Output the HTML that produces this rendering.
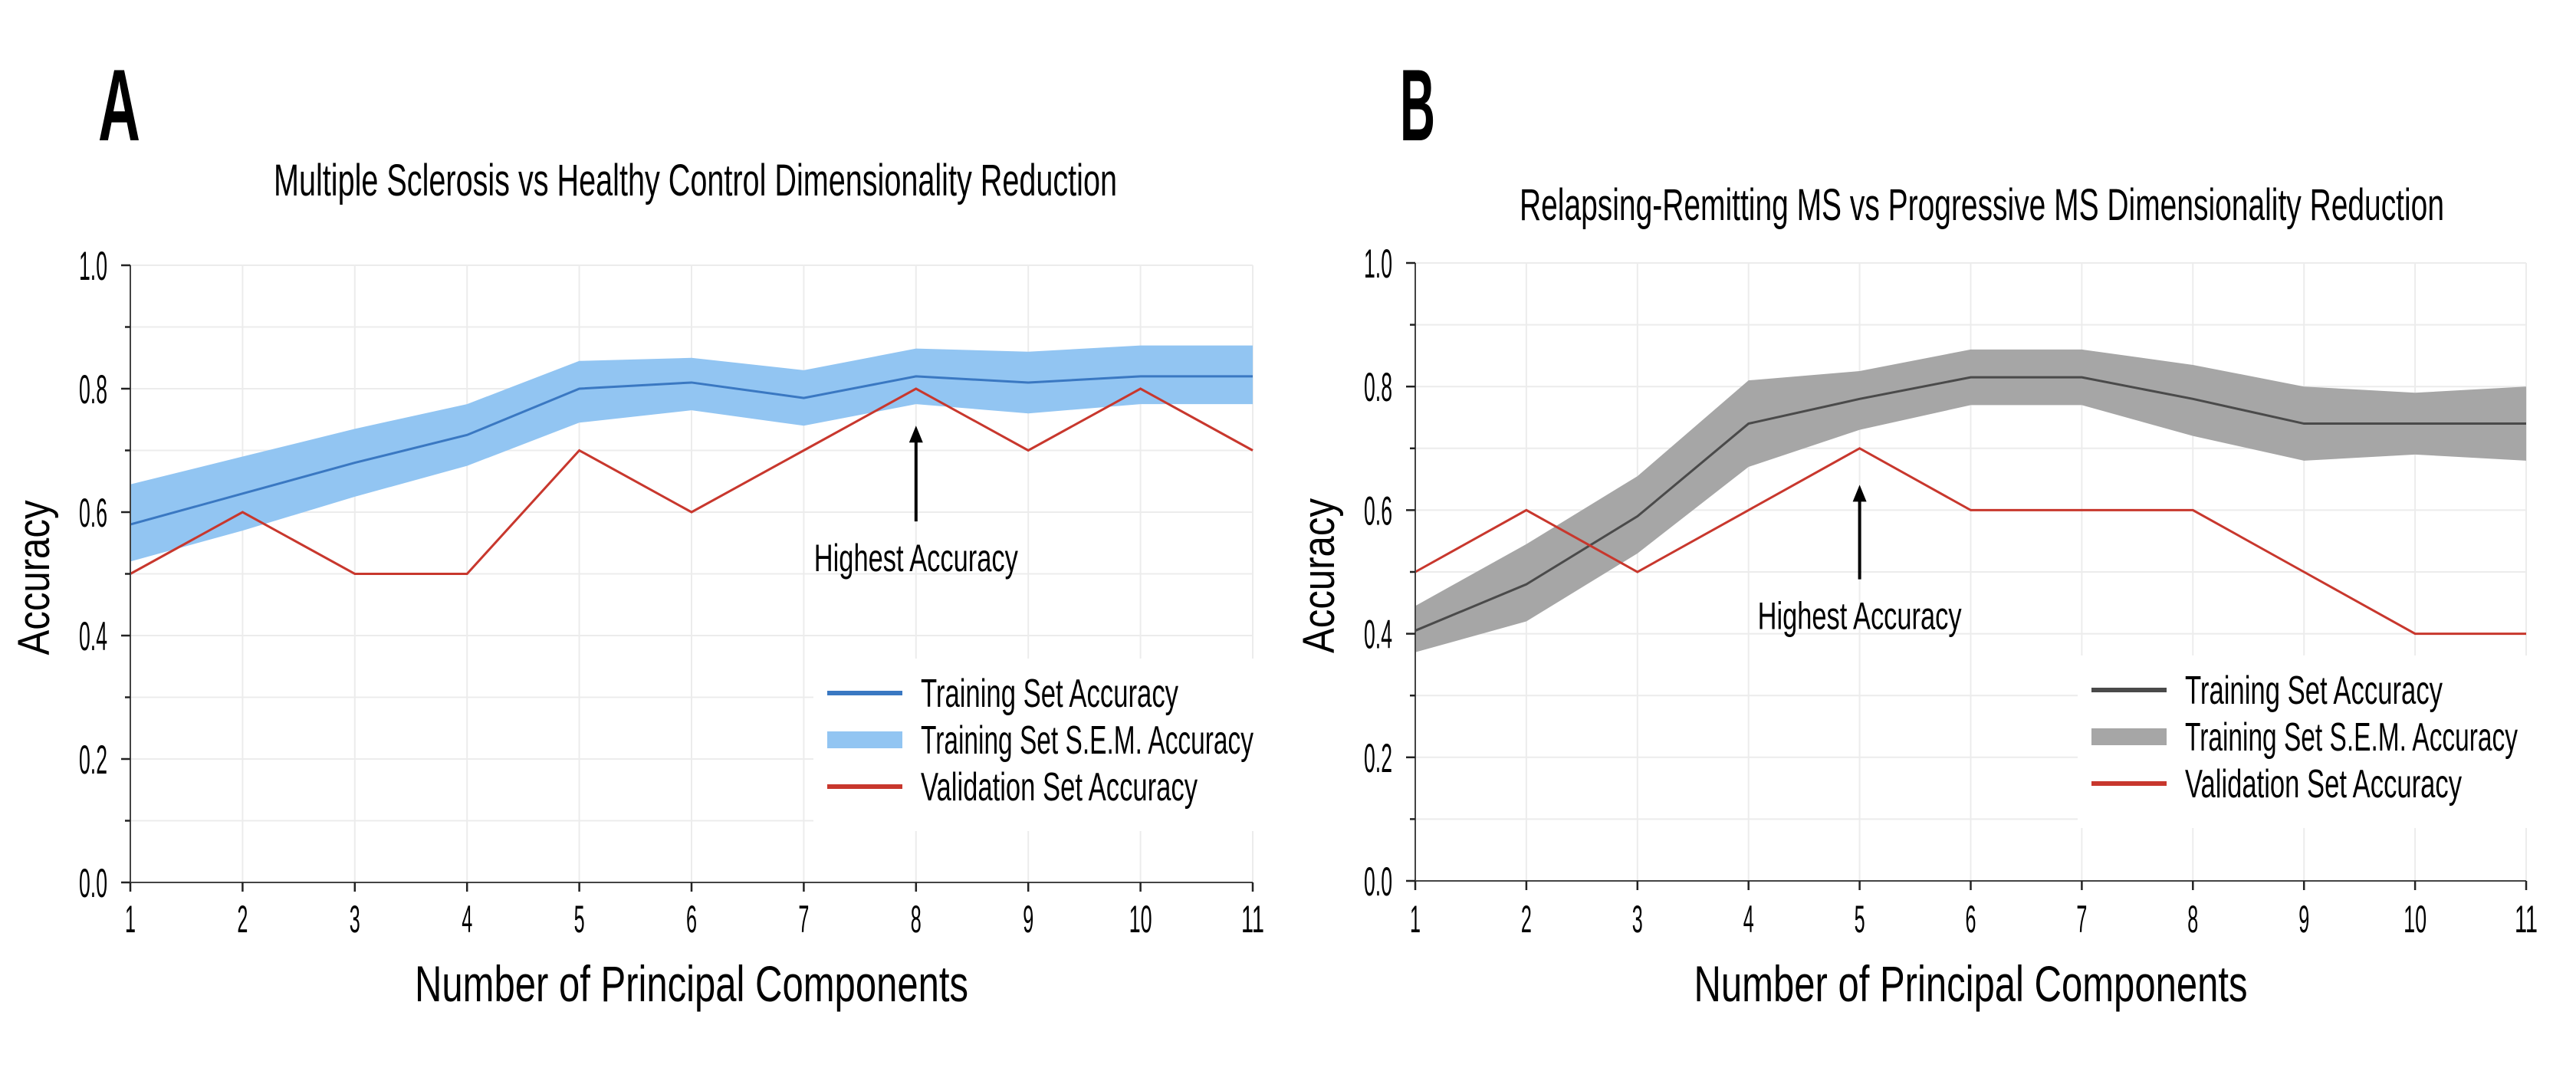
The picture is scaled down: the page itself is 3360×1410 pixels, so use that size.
<!DOCTYPE html>
<html><head><meta charset="utf-8"><style>
html,body{margin:0;padding:0;background:#fff;}
svg{display:block;font-family:"Liberation Sans",sans-serif;}
</style></head><body>
<svg id="fig" width="3360" height="1410" viewBox="0 0 3360 1410" xmlns="http://www.w3.org/2000/svg"></svg>
<script>
const xCats = [1,2,3,4,5,6,7,8,9,10,11];
const yTicks = [0,0.2,0.4,0.6,0.8,1.0];
const yTickLabels = ["0.0","0.2","0.4","0.6","0.8","1.0"];
const yMinorTicks = [0.1,0.3,0.5,0.7,0.9];
const aTrain = [0.58,0.63,0.68,0.725,0.80,0.81,0.785,0.82,0.81,0.82,0.82];
const aUpper = [0.645,0.69,0.735,0.775,0.845,0.85,0.83,0.865,0.86,0.87,0.87];
const aLower = [0.52,0.57,0.625,0.675,0.745,0.765,0.74,0.775,0.76,0.775,0.775];
const aValid = [0.5,0.6,0.5,0.5,0.7,0.6,0.7,0.8,0.7,0.8,0.7];
const bTrain = [0.405,0.48,0.59,0.74,0.78,0.815,0.815,0.78,0.74,0.74,0.74];
const bUpper = [0.445,0.545,0.655,0.81,0.825,0.86,0.86,0.835,0.80,0.79,0.80];
const bLower = [0.37,0.42,0.53,0.67,0.73,0.77,0.77,0.72,0.68,0.69,0.68];
const bValid = [0.5,0.6,0.5,0.6,0.7,0.6,0.6,0.6,0.5,0.4,0.4];
const aArrow = [8,0.585,0.74];
const bArrow = [5,0.488,0.641];

const NS="http://www.w3.org/2000/svg";
const svg=document.getElementById('fig');
function mk(tag,attrs,parent){const e=document.createElementNS(NS,tag);for(const k in attrs)e.setAttribute(k,attrs[k]);(parent||svg).appendChild(e);return e;}
function txt(str,x,y,size,anchor,len,parent,extra){
  const a={x:x,y:y,'font-size':size,'text-anchor':anchor||'start',fill:'#000'};
  if(len){a.textLength=len;a.lengthAdjust='spacingAndGlyphs';}
  if(extra)for(const k in extra)a[k]=extra[k];
  const t=mk('text',a,parent);t.textContent=str;return t;
}

function panel(cfg){
  const g=mk('g',{});
  
  
  const X=v=>cfg.x0+(v-1)*(cfg.x1-cfg.x0)/10;
  const Y=v=>cfg.y0-v*(cfg.y0-cfg.y1);
  // grid
  const grid=mk('g',{stroke:'#ececec','stroke-width':2},g);
  
  
  xCats.forEach(c=>mk('line',{x1:X(c),x2:X(c),y1:Y(0),y2:Y(1)},grid));
  yTicks.concat(yMinorTicks).forEach(v=>mk('line',{x1:cfg.x0,x2:cfg.x1,y1:Y(v),y2:Y(v)},grid));
  // band
  let d='';
  xCats.forEach((c,i)=>{d+=(i?'L':'M')+X(c)+','+Y(cfg.upper[i]);});
  for(let i=xCats.length-1;i>=0;i--)d+='L'+X(xCats[i])+','+Y(cfg.lower[i]);
  const band=mk('path',{d:d+'Z',fill:cfg.band,stroke:'none'},g);
  
  
  const tl=mk('polyline',{points:xCats.map((c,i)=>X(c)+','+Y(cfg.train[i])).join(' '),fill:'none',stroke:cfg.line,'stroke-width':3},g);
  
  
  const vl=mk('polyline',{points:xCats.map((c,i)=>X(c)+','+Y(cfg.valid[i])).join(' '),fill:'none',stroke:'#c8372d','stroke-width':3},g);
  
  
  // axes
  mk('line',{x1:cfg.x0,x2:cfg.x0,y1:Y(1),y2:Y(0)+1,stroke:'#444','stroke-width':2},g);
  mk('line',{x1:cfg.x0,x2:cfg.x1,y1:Y(0),y2:Y(0),stroke:'#444','stroke-width':2},g);
  yTicks.forEach((v,i)=>{
    mk('line',{x1:cfg.x0-12,x2:cfg.x0,y1:Y(v),y2:Y(v),stroke:'#222','stroke-width':2.5},g);
    const t=txt(yTickLabels[i],cfg.x0-30,Y(v)+19,53,'end',37,g);
    
    
  });
  yMinorTicks.forEach(v=>mk('line',{x1:cfg.x0-7,x2:cfg.x0,y1:Y(v),y2:Y(v),stroke:'#222','stroke-width':2.5},g));
  xCats.forEach(c=>{
    mk('line',{x1:X(c),x2:X(c),y1:Y(0),y2:Y(0)+12,stroke:'#222','stroke-width':2.5},g);
    const t=txt(String(c),X(c),1216,50,'middle',c>=10?30:14,g);
    
    
  });
  // labels
  const yl=txt('Accuracy',0,0,58,'middle',202,g,{transform:'translate('+(cfg.x0-106)+','+(Y(0.5)+5)+') rotate(-90)'});
  
  
  const xl=txt('Number of Principal Components',(cfg.x0+cfg.x1)/2,1306,66,'middle',722,g);
  
  
  const ti=txt(cfg.title,cfg.titleX,cfg.titleY,58,'start',cfg.titleW,g);
  
  
  const le=txt(cfg.letter,cfg.letterX,183,133,'start',cfg.letterW,g,{'font-weight':'bold'});
  
  
  // arrow annotation
  const ax=X(cfg.arrow[0]);
  const ar=mk('g',{},g);
  
  
  mk('line',{x1:ax,x2:ax,y1:Y(cfg.arrow[1]),y2:Y(cfg.arrow[2])+18,stroke:'#000','stroke-width':4},ar);
  mk('polygon',{points:(ax-9)+','+(Y(cfg.arrow[2])+22)+' '+(ax+9)+','+(Y(cfg.arrow[2])+22)+' '+ax+','+Y(cfg.arrow[2]),fill:'#000'},ar);
  const ha=txt('Highest Accuracy',ax,Y(cfg.arrow[1])+65,50,'middle',266,g);
  
  
  // legend
  const lg=mk('g',{},g);
  
  
  mk('rect',{x:cfg.legX-18,y:cfg.legY0-45,width:cfg.x1-cfg.legX+22,height:225,fill:'#fff'},lg);
  const rows=[['Training Set Accuracy',336],['Training Set S.E.M. Accuracy',434],['Validation Set Accuracy',361]];
  rows.forEach((r,i)=>{
    const yy=cfg.legY0+i*61;
    let sw;
    if(i===0)sw=mk('line',{x1:cfg.legX,x2:cfg.legX+98,y1:yy,y2:yy,stroke:cfg.line,'stroke-width':6},lg);
    else if(i===1)sw=mk('rect',{x:cfg.legX,y:yy-11,width:98,height:22,fill:cfg.band},lg);
    else sw=mk('line',{x1:cfg.legX,x2:cfg.legX+98,y1:yy,y2:yy,stroke:'#c8372d','stroke-width':6},lg);
    
    
    const t=txt(r[0],cfg.legX+122,yy+18,52,'start',r[1],lg);
    
    
  });
}

panel({name:'panel-a',x0:170,x1:1634,y0:1151,y1:346,train:aTrain,upper:aUpper,lower:aLower,valid:aValid,
  line:'#3a78c2',band:'#92c5f2',title:'Multiple Sclerosis vs Healthy Control Dimensionality Reduction',
  titleX:357,titleY:255,titleW:1100,letter:'A',letterX:128,letterW:55,arrow:aArrow,legX:1079,legY0:904});
panel({name:'panel-b',x0:1846,x1:3295,y0:1149,y1:343,train:bTrain,upper:bUpper,lower:bLower,valid:bValid,
  line:'#4a4a4a',band:'#a6a6a6',title:'Relapsing-Remitting MS vs Progressive MS Dimensionality Reduction',
  titleX:1982,titleY:287,titleW:1206,letter:'B',letterX:1826,letterW:46,arrow:bArrow,legX:2728,legY0:900});
</script>
</body></html>
